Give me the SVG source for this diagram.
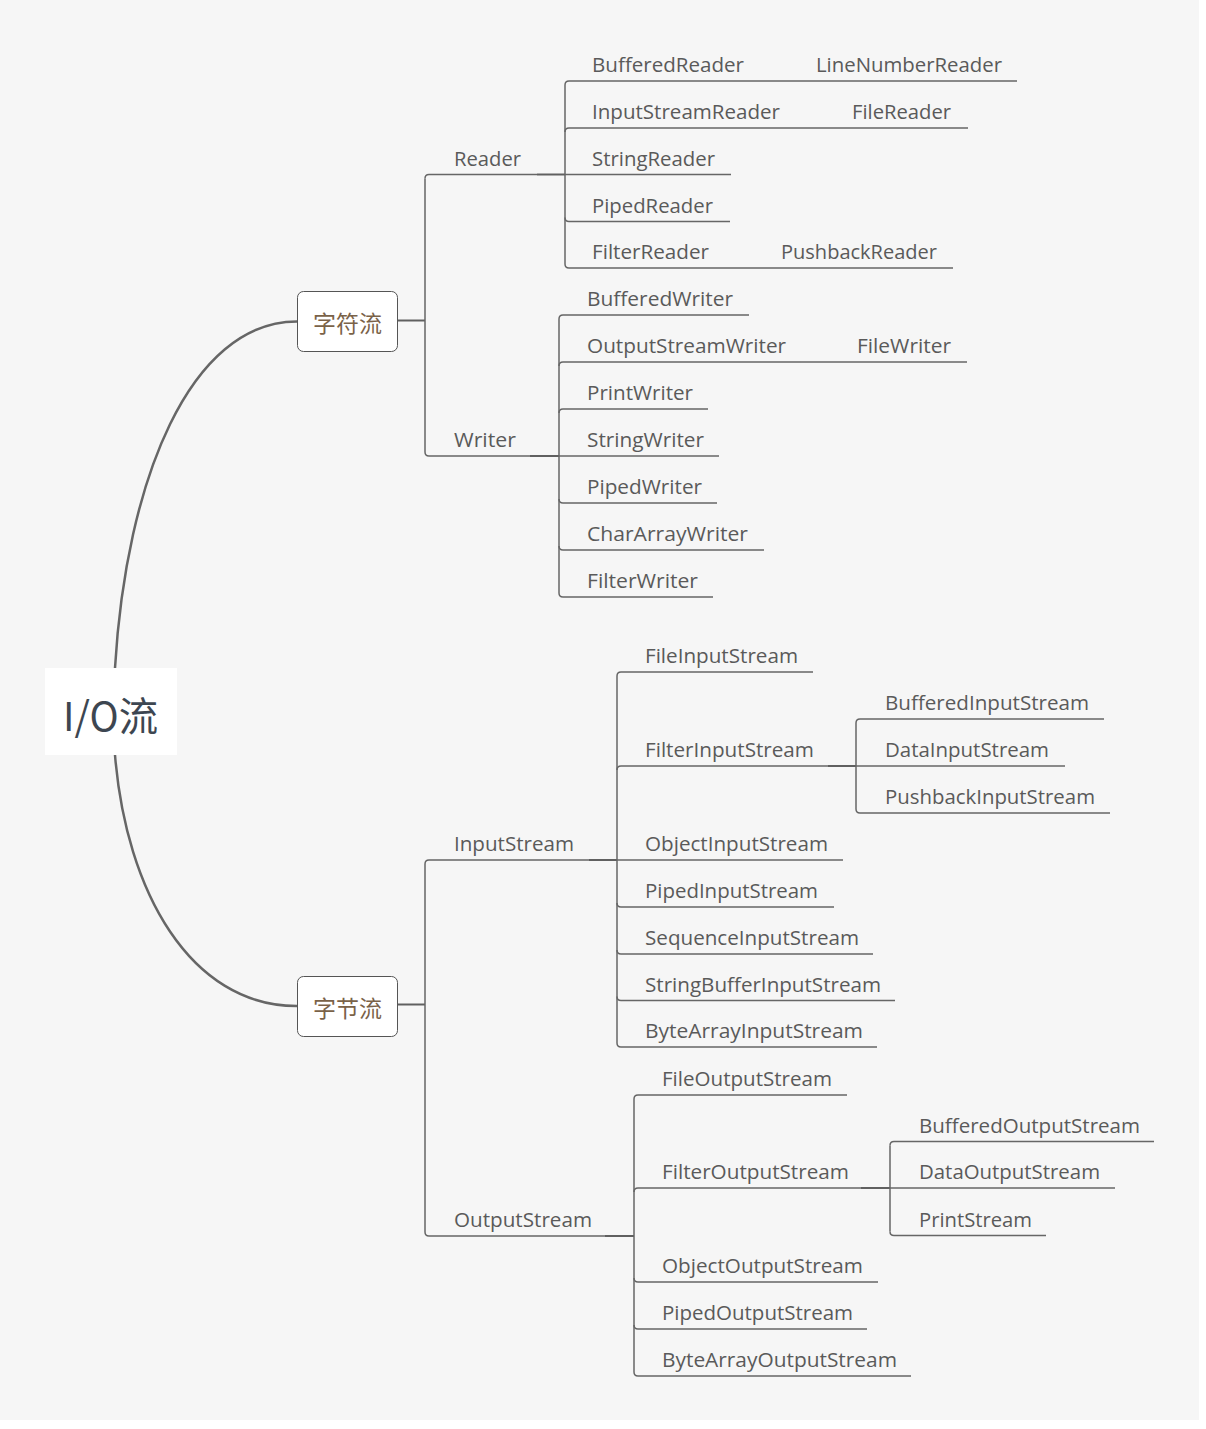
<svg xmlns="http://www.w3.org/2000/svg" width="1206" height="1429" viewBox="0 0 1206 1429">
<style>
.t{font-family:"Open Sans","Noto Sans","DejaVu Sans",sans-serif;font-size:20px;fill:#5a5a5a}
.ln{fill:none;stroke:#666;stroke-width:1.5}
.cn{fill:none;stroke:#606060;stroke-width:2}
.cv{fill:none;stroke:#666;stroke-width:2.5}
.box{fill:#fff;stroke:#555;stroke-width:1}
.bt{font-family:"Noto Sans CJK SC","Noto Sans CJK JP",sans-serif;font-size:23px;fill:#7a6248;text-anchor:middle}
</style>
<rect x="0" y="0" width="1206" height="1429" fill="#ffffff"/>
<rect x="0" y="0" width="1199" height="1420" fill="#f6f6f6"/>
<g id="connectors">
<path class="cv" d="M115,668 C126,480 190,321.5 297,321.5"/>
<path class="cv" d="M115,755 C126,891 190,1006 297,1006"/>
<path class="cn" d="M398,320.5 H425"/>
<path class="cn" d="M398,1004.5 H425"/>
<path class="ln" d="M425,178.5 V452 M425,864 V1232"/>
<path class="ln" d="M425,178.5 Q425,174.5 429,174.5 H537"/>
<path class="cn" d="M537,174.5 H565"/>
<path class="ln" d="M425,452 Q425,456 429,456 H530"/>
<path class="cn" d="M530,456 H559"/>
<path class="ln" d="M425,864 Q425,860 429,860 H589"/>
<path class="cn" d="M589,860 H617"/>
<path class="ln" d="M425,1232 Q425,1236 429,1236 H605"/>
<path class="cn" d="M605,1236 H634"/>
<!-- Reader children -->
<path class="ln" d="M565,85 V264"/>
<path class="ln" d="M565,85 Q565,81 569,81 H760"/>
<path class="ln" d="M565,132 Q565,128 569,128 H797"/>
<path class="ln" d="M565,174.5 H731"/>
<path class="ln" d="M565,217.5 Q565,221.5 569,221.5 H730"/>
<path class="ln" d="M565,264 Q565,268 569,268 H724"/>
<path class="ln" d="M760,81 H1017 M797,128 H968 M724,268 H953"/>
<!-- Writer children -->
<path class="ln" d="M559,319 V593"/>
<path class="ln" d="M559,319 Q559,315 563,315 H749"/>
<path class="ln" d="M559,366 Q559,362 563,362 H801"/>
<path class="ln" d="M801,362 H967"/>
<path class="ln" d="M559,413 Q559,409 563,409 H708"/>
<path class="ln" d="M559,456 H719"/>
<path class="ln" d="M559,499 Q559,503 563,503 H717"/>
<path class="ln" d="M559,546 Q559,550 563,550 H764"/>
<path class="ln" d="M559,593 Q559,597 563,597 H713"/>
<!-- InputStream children -->
<path class="ln" d="M617,676 V1043"/>
<path class="ln" d="M617,676 Q617,672 621,672 H813"/>
<path class="ln" d="M617,770 Q617,766 621,766 H828"/>
<path class="cn" d="M828,766 H856"/>
<path class="ln" d="M617,860 H843"/>
<path class="ln" d="M617,903 Q617,907 621,907 H834"/>
<path class="ln" d="M617,950 Q617,954 621,954 H873"/>
<path class="ln" d="M617,996.5 Q617,1000.5 621,1000.5 H895"/>
<path class="ln" d="M617,1043 Q617,1047 621,1047 H877"/>
<path class="ln" d="M856,723 V809"/>
<path class="ln" d="M856,723 Q856,719 860,719 H1104"/>
<path class="ln" d="M856,766 H1065"/>
<path class="ln" d="M856,809 Q856,813 860,813 H1110"/>
<!-- OutputStream children -->
<path class="ln" d="M634,1099 V1372"/>
<path class="ln" d="M634,1099 Q634,1095 638,1095 H847"/>
<path class="ln" d="M634,1192 Q634,1188 638,1188 H861"/>
<path class="cn" d="M861,1188 H890"/>
<path class="ln" d="M634,1278 Q634,1282 638,1282 H878"/>
<path class="ln" d="M634,1325 Q634,1329 638,1329 H867"/>
<path class="ln" d="M634,1372 Q634,1376 638,1376 H911"/>
<path class="ln" d="M890,1145.5 V1231.5"/>
<path class="ln" d="M890,1145.5 Q890,1141.5 894,1141.5 H1154"/>
<path class="ln" d="M890,1188 H1115"/>
<path class="ln" d="M890,1231.5 Q890,1235.5 894,1235.5 H1046"/>
</g>
<g id="root">
<rect x="45" y="668" width="132" height="87" fill="#ffffff"/>
<text x="63" y="731" textLength="95" lengthAdjust="spacingAndGlyphs" style="font-family:'Noto Sans CJK SC','Noto Sans CJK JP',sans-serif;font-size:40px;fill:#3d4651">I/O流</text>
</g>
<g id="char-stream">
<rect class="box" x="297.5" y="291.5" width="100" height="60" rx="6"/>
<text class="bt" x="347.5" y="332">字符流</text>
</g>
<g id="byte-stream">
<rect class="box" x="297.5" y="976.5" width="100" height="60" rx="6"/>
<text class="bt" x="347.5" y="1016.5">字节流</text>
</g>
<g id="reader"><text class="t" x="454" y="165.5" textLength="67" lengthAdjust="spacingAndGlyphs">Reader</text></g>
<g id="writer"><text class="t" x="454" y="447" textLength="62" lengthAdjust="spacingAndGlyphs">Writer</text></g>
<g id="bufferedreader"><text class="t" x="592" y="72" textLength="152" lengthAdjust="spacingAndGlyphs">BufferedReader</text></g>
<g id="inputstreamreader"><text class="t" x="592" y="119" textLength="188" lengthAdjust="spacingAndGlyphs">InputStreamReader</text></g>
<g id="stringreader"><text class="t" x="592" y="165.5" textLength="123" lengthAdjust="spacingAndGlyphs">StringReader</text></g>
<g id="pipedreader"><text class="t" x="592" y="212.5" textLength="121" lengthAdjust="spacingAndGlyphs">PipedReader</text></g>
<g id="filterreader"><text class="t" x="592" y="259" textLength="117" lengthAdjust="spacingAndGlyphs">FilterReader</text></g>
<g id="linenumberreader"><text class="t" x="816" y="72" textLength="186" lengthAdjust="spacingAndGlyphs">LineNumberReader</text></g>
<g id="filereader"><text class="t" x="852" y="119" textLength="99" lengthAdjust="spacingAndGlyphs">FileReader</text></g>
<g id="pushbackreader"><text class="t" x="781" y="259" textLength="156" lengthAdjust="spacingAndGlyphs">PushbackReader</text></g>
<g id="bufferedwriter"><text class="t" x="587" y="306" textLength="146" lengthAdjust="spacingAndGlyphs">BufferedWriter</text></g>
<g id="outputstreamwriter"><text class="t" x="587" y="353" textLength="199" lengthAdjust="spacingAndGlyphs">OutputStreamWriter</text></g>
<g id="filewriter"><text class="t" x="857" y="353" textLength="94" lengthAdjust="spacingAndGlyphs">FileWriter</text></g>
<g id="printwriter"><text class="t" x="587" y="400" textLength="106" lengthAdjust="spacingAndGlyphs">PrintWriter</text></g>
<g id="stringwriter"><text class="t" x="587" y="447" textLength="117" lengthAdjust="spacingAndGlyphs">StringWriter</text></g>
<g id="pipedwriter"><text class="t" x="587" y="494" textLength="115" lengthAdjust="spacingAndGlyphs">PipedWriter</text></g>
<g id="chararraywriter"><text class="t" x="587" y="541" textLength="161" lengthAdjust="spacingAndGlyphs">CharArrayWriter</text></g>
<g id="filterwriter"><text class="t" x="587" y="588" textLength="111" lengthAdjust="spacingAndGlyphs">FilterWriter</text></g>
<g id="inputstream"><text class="t" x="454" y="851" textLength="120" lengthAdjust="spacingAndGlyphs">InputStream</text></g>
<g id="fileinputstream"><text class="t" x="645" y="663" textLength="153" lengthAdjust="spacingAndGlyphs">FileInputStream</text></g>
<g id="filterinputstream"><text class="t" x="645" y="757" textLength="169" lengthAdjust="spacingAndGlyphs">FilterInputStream</text></g>
<g id="objectinputstream"><text class="t" x="645" y="851" textLength="183" lengthAdjust="spacingAndGlyphs">ObjectInputStream</text></g>
<g id="pipedinputstream"><text class="t" x="645" y="898" textLength="173" lengthAdjust="spacingAndGlyphs">PipedInputStream</text></g>
<g id="sequenceinputstream"><text class="t" x="645" y="945" textLength="214" lengthAdjust="spacingAndGlyphs">SequenceInputStream</text></g>
<g id="stringbufferinputstream"><text class="t" x="645" y="991.5" textLength="236" lengthAdjust="spacingAndGlyphs">StringBufferInputStream</text></g>
<g id="bytearrayinputstream"><text class="t" x="645" y="1038" textLength="218" lengthAdjust="spacingAndGlyphs">ByteArrayInputStream</text></g>
<g id="bufferedinputstream"><text class="t" x="885" y="710" textLength="204" lengthAdjust="spacingAndGlyphs">BufferedInputStream</text></g>
<g id="datainputstream"><text class="t" x="885" y="757" textLength="164" lengthAdjust="spacingAndGlyphs">DataInputStream</text></g>
<g id="pushbackinputstream"><text class="t" x="885" y="804" textLength="210" lengthAdjust="spacingAndGlyphs">PushbackInputStream</text></g>
<g id="outputstream"><text class="t" x="454" y="1227" textLength="138" lengthAdjust="spacingAndGlyphs">OutputStream</text></g>
<g id="fileoutputstream"><text class="t" x="662" y="1086" textLength="170" lengthAdjust="spacingAndGlyphs">FileOutputStream</text></g>
<g id="filteroutputstream"><text class="t" x="662" y="1179" textLength="187" lengthAdjust="spacingAndGlyphs">FilterOutputStream</text></g>
<g id="objectoutputstream"><text class="t" x="662" y="1273" textLength="201" lengthAdjust="spacingAndGlyphs">ObjectOutputStream</text></g>
<g id="pipedoutputstream"><text class="t" x="662" y="1320" textLength="191" lengthAdjust="spacingAndGlyphs">PipedOutputStream</text></g>
<g id="bytearrayoutputstream"><text class="t" x="662" y="1367" textLength="235" lengthAdjust="spacingAndGlyphs">ByteArrayOutputStream</text></g>
<g id="bufferedoutputstream"><text class="t" x="919" y="1132.5" textLength="221" lengthAdjust="spacingAndGlyphs">BufferedOutputStream</text></g>
<g id="dataoutputstream"><text class="t" x="919" y="1179" textLength="181" lengthAdjust="spacingAndGlyphs">DataOutputStream</text></g>
<g id="printstream"><text class="t" x="919" y="1226.5" textLength="113" lengthAdjust="spacingAndGlyphs">PrintStream</text></g>
</svg>
